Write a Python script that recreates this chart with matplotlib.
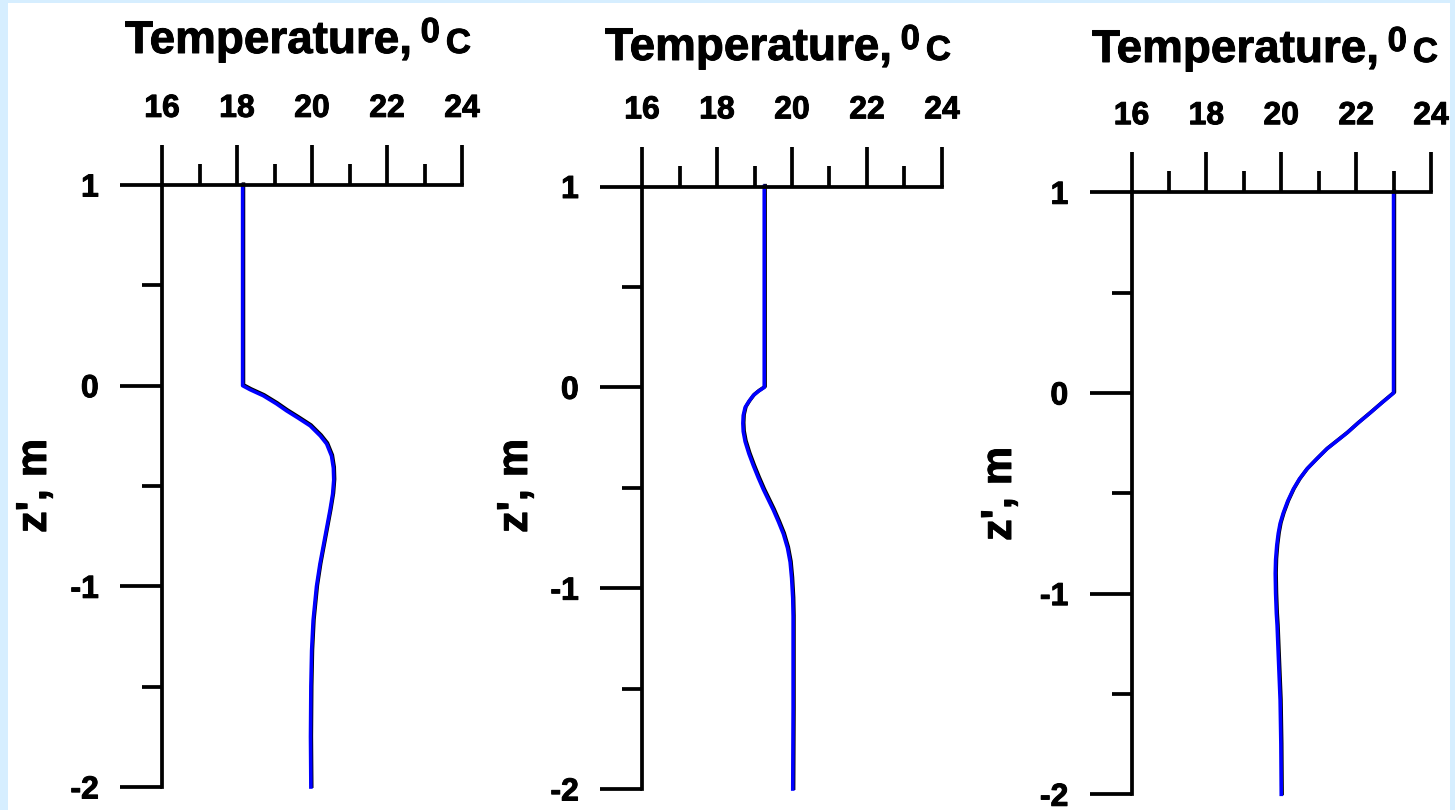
import matplotlib

matplotlib.use("Agg")
import matplotlib.pyplot as plt  # noqa: E402
import matplotlib.patheffects as pe  # noqa: E402
from matplotlib.patches import Rectangle  # noqa: E402
from matplotlib.ticker import MultipleLocator  # noqa: E402

# Temperature profiles, one per panel
z_a = [1.0, 0.0, -0.02, -0.05, -0.09, -0.125, -0.16, -0.2, -0.25, -0.29, -0.35, -0.41,
       -0.47, -0.54, -0.62, -0.71, -0.80, -0.89, -1.0, -1.17, -1.32, -1.5, -1.75, -2.0]
t_a = [18.15, 18.15, 18.35, 18.70, 19.05, 19.32, 19.62, 19.95, 20.22, 20.39, 20.52, 20.57,
       20.58, 20.55, 20.48, 20.39, 20.30, 20.21, 20.12, 20.03, 19.99, 19.97, 19.96, 19.97]

z_b = [1.0, 0.0, -0.02, -0.04, -0.07, -0.10, -0.14, -0.18, -0.22, -0.27, -0.33, -0.39, -0.45,
       -0.51, -0.56, -0.61, -0.67, -0.73, -0.80, -0.87, -0.95, -1.05, -1.14, -1.3, -1.6, -2.0]
t_b = [19.26, 19.26, 19.10, 18.97, 18.85, 18.75, 18.70, 18.69, 18.70, 18.75, 18.85, 18.97, 19.10,
       19.24, 19.37, 19.50, 19.64, 19.77, 19.88, 19.95, 19.99, 20.02, 20.03, 20.03, 20.03, 20.02]

z_c = [1.0, 0.0, -0.05, -0.10, -0.15, -0.20, -0.24, -0.28, -0.33, -0.38, -0.43, -0.48, -0.54,
       -0.60, -0.65, -0.70, -0.76, -0.83, -0.9, -1.0, -1.1, -1.16, -1.3, -1.53, -1.75, -2.0]
t_c = [23.0, 23.0, 22.68, 22.37, 22.05, 21.75, 21.48, 21.21, 20.94, 20.68, 20.48, 20.32, 20.17,
       20.05, 19.97, 19.92, 19.88, 19.85, 19.84, 19.85, 19.87, 19.89, 19.92, 19.97, 19.99, 20.0]

profiles = [(t_a, z_a), (t_b, z_b), (t_c, z_c)]

x_range = (16, 24)
y_range = (-2, 1)
title_main = "Temperature,"
title_sup = "0"
title_unit = "C"
y_label = "z', m"

plt.rcParams["font.family"] = ["Liberation Sans", "DejaVu Sans"]
plt.rcParams["font.weight"] = "bold"

W, H = 1455, 810
fig = plt.figure(figsize=(W / 100, H / 100), dpi=100)
fig.patch.set_facecolor("#d6eeff")
fig.patches.append(Rectangle((8 / W, 0), 1442 / W, 1 - 3 / H, transform=fig.transFigure,
                             facecolor="white", edgecolor="none", zorder=-1))

# axes boxes in pixels: left, top, right, bottom
boxes = [(162, 185, 462, 787), (642, 186.5, 942, 789), (1131.5, 192.3, 1431, 794.3)]
ylabel_pos = [(35, 486), (516, 486), (1000, 494)]
title_pos = [(125, 53), (605, 60), (1092, 62)]

renderer = fig.canvas.get_renderer()
lw = 2.7
heavy = [pe.withStroke(linewidth=0.7, foreground="black")]

for (temps, depth), (l, t, r, b), (lx, ly), (tx, ty) in zip(profiles, boxes, ylabel_pos,
                                                             title_pos):
    ax = fig.add_axes([l / W, 1 - b / H, (r - l) / W, (b - t) / H])
    ax.set_facecolor("none")
    ax.plot(temps, depth, color="#0000ff", lw=2.6, solid_joinstyle="round", clip_on=False,
            path_effects=[pe.SimpleLineShadow(offset=(0.6, 0.6), shadow_color="black", alpha=1.0),
                          pe.Normal()])
    ax.set_xlim(*x_range)
    ax.set_ylim(*y_range)
    for side in ("right", "bottom"):
        ax.spines[side].set_visible(False)
    for side in ("top", "left"):
        ax.spines[side].set_linewidth(lw)
    ax.xaxis.tick_top()
    ax.xaxis.set_major_locator(MultipleLocator(2))
    ax.xaxis.set_minor_locator(MultipleLocator(1))
    ax.yaxis.set_major_locator(MultipleLocator(1))
    ax.yaxis.set_minor_locator(MultipleLocator(0.5))
    ax.tick_params(axis="x", which="major", direction="out", length=29, width=lw,
                   pad=15, labelsize=23)
    ax.tick_params(axis="x", which="minor", direction="out", length=15, width=lw)
    ax.tick_params(axis="y", which="major", direction="out", length=30, width=lw,
                   pad=15.5, labelsize=23)
    ax.tick_params(axis="y", which="minor", direction="out", length=14.5, width=lw)
    ax.set_yticks([1, 0, -1, -2])
    ax.set_yticklabels(["1", "0", "-1", "-2"])
    for lab in ax.get_xticklabels() + ax.get_yticklabels():
        lab.set_path_effects(heavy)

    fig.text(lx / W, 1 - ly / H, y_label, rotation=90, ha="center", va="center",
             fontsize=31, fontweight="bold", path_effects=heavy)

    # title built from three pieces: main text, raised "0", small "C"
    base_y = H - ty
    t1 = fig.text(tx / W, base_y / H, title_main, fontsize=33, fontweight="bold",
                  ha="left", va="baseline", path_effects=heavy)
    bb = t1.get_window_extent(renderer)
    t2 = fig.text((bb.x1 + 8) / W, (base_y + 11) / H, title_sup, fontsize=25,
                  fontweight="bold", ha="left", va="baseline", path_effects=heavy)
    bb2 = t2.get_window_extent(renderer)
    fig.text((bb2.x1 + 6) / W, base_y / H, title_unit, fontsize=25, fontweight="bold",
             ha="left", va="baseline", path_effects=heavy)

fig.savefig("out.png", dpi=100, facecolor=fig.get_facecolor())
plt.close(fig)
